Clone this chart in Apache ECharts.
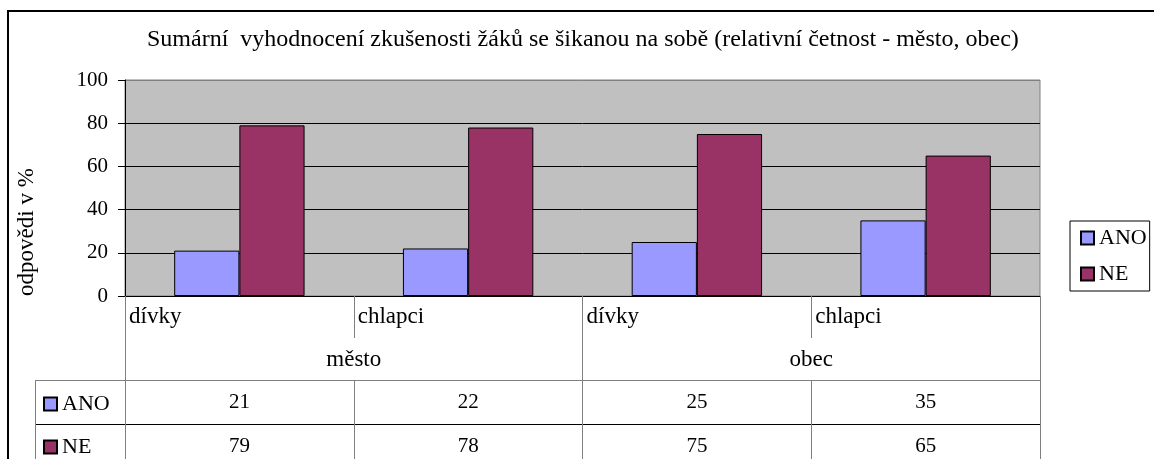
<!DOCTYPE html>
<html lang="cs">
  <head>
    <meta charset="utf-8">
    <title>Sumární vyhodnocení</title>
    <script src="https://cdn.jsdelivr.net/npm/echarts@6/dist/echarts.min.js"></script>
    <style>
      html, body { margin: 0; padding: 0; background: #fff; }
    </style>
  </head>
  <body>
    <div id="main" style="width: 1154px;height:459px;"></div>
    <script type="text/javascript">
      // data
      var podskupiny = ['dívky', 'chlapci', 'dívky', 'chlapci'];
      var skupiny = ['město', 'obec'];
      var ano = [21, 22, 25, 35];
      var ne = [79, 78, 75, 65];

      var FONT = 'Liberation Serif';
      var L = 125, R = 1040, TOP = 80, BOT = 296;

      var myChart = echarts.init(document.getElementById('main'));

      // osa kategorii = jeden radek tabulky pod grafem
      function radek(data, offset, tickLen, margin, line, size) {
          return {
              type: 'category',
              gridIndex: 0,
              position: 'bottom',
              offset: offset,
              data: data,
              axisLine: { show: !!line, lineStyle: { color: line || '#000', width: 1 } },
              axisTick: { show: true, length: tickLen, lineStyle: { color: '#808080' } },
              axisLabel: { color: '#000', fontFamily: FONT, fontSize: size, margin: margin, interval: 0 },
              splitLine: { show: false }
          };
      }

      var option = {
          animation: false,
          title: {
              text: 'Sumární  vyhodnocení zkušenosti žáků se šikanou na sobě (relativní četnost - město, obec)',
              left: 147,
              top: 28,
              padding: 0,
              textStyle: { fontFamily: FONT, fontSize: 24, fontWeight: 'normal', color: '#000' }
          },
          grid: {
              left: L,
              top: TOP,
              width: R - L,
              height: BOT - TOP,
              show: true,
              backgroundColor: '#C0C0C0',
              borderColor: '#808080',
              borderWidth: 1
          },
          legend: [{
              data: ['ANO', 'NE'],
              orient: 'vertical',
              left: 1070,
              top: 221,
              padding: [6, 3, 6, 10],
              itemGap: 14,
              itemWidth: 13,
              itemHeight: 13,
              borderColor: '#000',
              borderWidth: 1,
              icon: 'rect',
              textStyle: { fontFamily: FONT, fontSize: 22, color: '#000' }
          }, {
              data: ['ANO', 'NE'],
              orient: 'vertical',
              left: 43,
              top: 393,
              padding: 0,
              itemGap: 21,
              itemWidth: 13,
              itemHeight: 13,
              icon: 'rect',
              textStyle: { fontFamily: FONT, fontSize: 22, color: '#000' }
          }],
          xAxis: [{
              type: 'category',
              gridIndex: 0,
              position: 'bottom',
              data: podskupiny,
              axisLine: { show: true, lineStyle: { color: '#000', width: 1 } },
              axisTick: { show: true, length: 42, lineStyle: { color: '#808080' } },
              axisLabel: {
                  interval: 0,
                  margin: 9,
                  formatter: function (v) { return '{a|' + v + '}'; },
                  rich: { a: { width: (R - L) / 4 - 8, align: 'left', fontFamily: FONT, fontSize: 23, color: '#000' } }
              }
          },
          radek(skupiny, 42, 42, 10, null, 23),
          radek(ano, 84, 44, 12, '#808080', 21),
          radek(ne, 128, 40, 12, '#000', 21)
          ],
          yAxis: {
              type: 'value',
              min: 0,
              max: 100,
              interval: 20,
              axisLine: { show: true, lineStyle: { color: '#000' } },
              axisTick: { show: true, length: 7, lineStyle: { color: '#000' } },
              axisLabel: { color: '#000', fontFamily: FONT, fontSize: 21, margin: 17 },
              splitLine: { show: true, lineStyle: { color: ['#000', '#000', '#000', '#000', '#000', '#808080'], width: 1 } }
          },
          series: [{
              name: 'ANO',
              type: 'bar',
              xAxisIndex: 0,
              barGap: '0%',
              barCategoryGap: '43%',
              itemStyle: { color: '#9999FF', borderColor: '#000', borderWidth: 1 },
              data: ano
          }, {
              name: 'NE',
              type: 'bar',
              xAxisIndex: 0,
              barGap: '0%',
              barCategoryGap: '43%',
              itemStyle: { color: '#993366', borderColor: '#000', borderWidth: 1 },
              data: ne
          }],
          graphic: [{
              type: 'rect',
              shape: { x: 8, y: 11, width: 1300, height: 600 },
              style: { fill: 'none', stroke: '#000', lineWidth: 2 },
              silent: true
          }, {
              type: 'text',
              x: 27,
              y: 232,
              rotation: Math.PI / 2,
              style: { text: 'odpovědi v %', font: '23px "Liberation Serif"', fill: '#000', align: 'center', verticalAlign: 'middle' }
          }, {
              type: 'line',
              shape: { x1: 35, y1: 380.5, x2: L, y2: 380.5 },
              style: { stroke: '#808080', lineWidth: 1 }
          }, {
              type: 'line',
              shape: { x1: 35, y1: 424.5, x2: L, y2: 424.5 },
              style: { stroke: '#000', lineWidth: 1 }
          }, {
              type: 'line',
              shape: { x1: 35.5, y1: 380, x2: 35.5, y2: 470 },
              style: { stroke: '#808080', lineWidth: 1 }
          }]
      };

      myChart.setOption(option);
    </script>
  </body>
</html>
